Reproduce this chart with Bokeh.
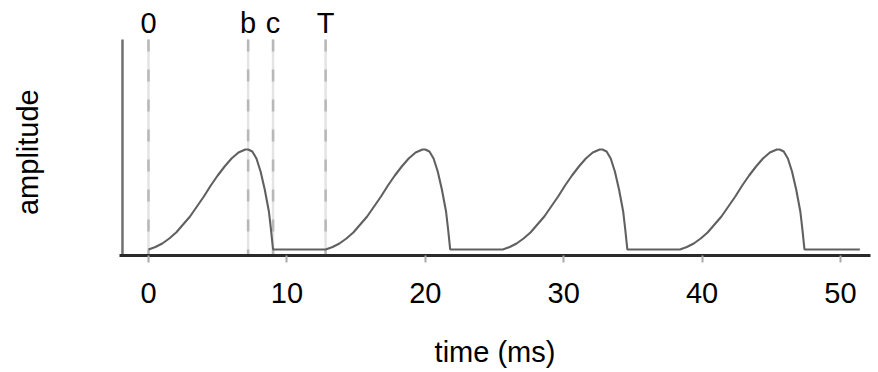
from bokeh.plotting import figure
from bokeh.models import Range1d, FixedTicker
from bokeh.core.properties import value
from bokeh.embed import file_html
from bokeh.resources import INLINE

# ---- data ----
pulse_t = [0, 0.5, 1.0, 1.5, 2.0, 2.5, 3.0, 3.5, 4.0, 4.5, 5.0, 5.5, 6.0, 6.5,
           7.0, 7.2, 7.5, 7.8, 8.1, 8.4, 8.7, 8.85, 9.0]
pulse_a = [0, 0.025, 0.06, 0.11, 0.17, 0.25, 0.33, 0.43, 0.53, 0.64, 0.74, 0.83,
           0.91, 0.97, 1.0, 1.0, 0.98, 0.91, 0.78, 0.6, 0.38, 0.2, 0.0]
pulse_onsets = [0, 12.8, 25.6, 38.4]
end_time = 51.4

marker_pos = [0, 7.2, 9.0, 12.8]
marker_lab = ["0", "b", "c", "T"]

x_ticks = [0, 10, 20, 30, 40, 50]

# build waveform
wx, wy = [], []
for on in pulse_onsets:
    for t, a in zip(pulse_t, pulse_a):
        wx.append(on + t)
        wy.append(a)
wx.append(end_time)
wy.append(0)

FONT = "Liberation Sans"
x0, x1 = -2.095, 52.17
y0, y1 = -0.06, 2.49

p = figure(width=878, height=372, output_backend="svg", toolbar_location=None,
           x_range=Range1d(x0, x1), y_range=Range1d(y0, y1),
           min_border_left=119, min_border_right=8, min_border_top=0,
           min_border_bottom=117)
p.outline_line_color = None
p.xgrid.visible = False
p.ygrid.visible = False
p.background_fill_color = "white"
p.border_fill_color = "white"

# x axis
xa = p.xaxis[0]
xa.ticker = FixedTicker(ticks=x_ticks)
xa.minor_tick_line_color = None
xa.axis_line_color = "#2a2a2a"
xa.axis_line_width = 3
xa.major_tick_line_color = "#aaaaaa"
xa.major_tick_line_width = 2
xa.major_tick_out = 7
xa.major_tick_in = 0
xa.major_label_text_font = FONT
xa.major_label_text_font_size = "29px"
xa.major_label_text_color = "black"
xa.major_label_standoff = 20
xa.axis_label = "time (ms)"
xa.axis_label_text_font = FONT
xa.axis_label_text_font_size = "29px"
xa.axis_label_text_font_style = "normal"
xa.axis_label_text_color = "black"
xa.axis_label_standoff = 30

# y axis: title only (trailing no-break spaces move it down a little)
ya = p.yaxis[0]
ya.ticker = FixedTicker(ticks=[])
ya.axis_line_color = None
ya.major_tick_line_color = None
ya.minor_tick_line_color = None
ya.axis_label = "amplitude" + "\u00a0" * 6
ya.axis_label_text_font = FONT
ya.axis_label_text_font_size = "29px"
ya.axis_label_text_font_style = "normal"
ya.axis_label_text_color = "black"
ya.axis_label_standoff = 76

# left spine
spine_x = -1.88
p.segment(x0=[spine_x], y0=[y0], x1=[spine_x], y1=[2.1],
          line_color="#707070", line_width=2.5)

# dashed marker lines
p.segment(x0=marker_pos, y0=[2.1] * 4, x1=marker_pos, y1=[y0] * 4,
          line_color="#e4e4e4", line_width=2.5)
p.segment(x0=marker_pos, y0=[2.1] * 4, x1=marker_pos, y1=[y0] * 4,
          line_color="#b8b8b8", line_width=2.5, line_dash="12 18")

# waveform
p.line(wx, wy, line_color="#606060", line_width=2.1)

# marker labels
p.text(x=marker_pos, y=[2.27] * 4, text=marker_lab,
       text_font=value(FONT), text_font_size="29px", text_color="black",
       text_align="center", text_baseline="middle")

open("out.html", "w").write(file_html(p, INLINE))
